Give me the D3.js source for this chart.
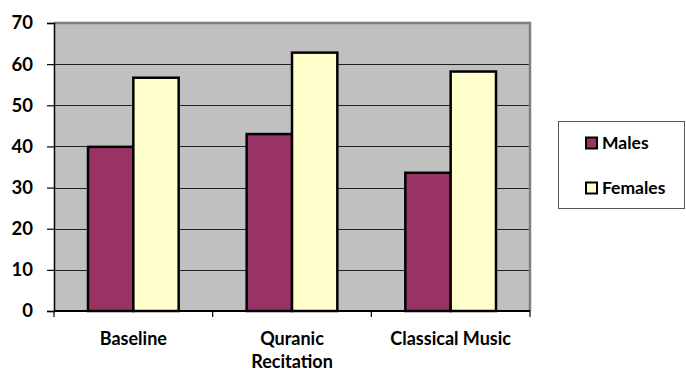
<!DOCTYPE html>
<html>
<head>
<meta charset="utf-8">
<script src="https://cdn.jsdelivr.net/npm/d3@7/dist/d3.min.js"></script>
<style>
  html, body { margin: 0; padding: 0; background: #fff; }
  svg { display: block; font-family: Lato, "Open Sans", sans-serif; font-weight: bold; }
</style>
</head>
<body>
<svg id="chart" width="686" height="371"></svg>
<script>
// Chart data
const categories = ["Baseline", "Quranic Recitation", "Classical Music"];
const categoryLines = [["Baseline"], ["Quranic", "Recitation"], ["Classical Music"]];
const seriesNames = ["Males", "Females"];
const males = [39.9, 43.0, 33.6];
const females = [56.7, 62.8, 58.2];
const yTicks = [0, 10, 20, 30, 40, 50, 60, 70];
const seriesColors = ["#993366", "#FFFFCC"];

const svg = d3.select("#chart");
const plot = { left: 54, right: 530, top: 23, bottom: 311 };

const x = d3.scaleBand().domain(categories).range([plot.left, plot.right]);
const xInner = d3.scaleBand().domain(seriesNames).range([0, x.bandwidth()])
  .paddingInner(0).paddingOuter(0.75);
const y = d3.scaleLinear().domain([0, 70]).range([plot.bottom, plot.top]);

// Plot background
svg.append("rect")
  .attr("x", plot.left).attr("y", plot.top)
  .attr("width", plot.right - plot.left).attr("height", plot.bottom - plot.top)
  .attr("fill", "#C0C0C0");

// Horizontal gridlines
svg.append("g").selectAll("line").data(yTicks.filter(d => d > 0 && d < 70)).join("line")
  .attr("x1", plot.left).attr("x2", plot.right)
  .attr("y1", d => Math.round(y(d)) + 0.5).attr("y2", d => Math.round(y(d)) + 0.5)
  .attr("stroke", "#222").attr("stroke-width", 1);

// Plot border (top and right)
svg.append("path")
  .attr("d", `M${plot.left},${plot.top} H${plot.right} V${plot.bottom}`)
  .attr("fill", "none").attr("stroke", "#808080").attr("stroke-width", 2.5);

// Bars
const rows = categories.map((c, i) => ({ cat: c, values: [males[i], females[i]] }));
const groups = svg.append("g").selectAll("g").data(rows).join("g")
  .attr("transform", d => `translate(${x(d.cat)},0)`);
groups.selectAll("rect").data(d => d.values.map((v, j) => ({ s: seriesNames[j], v, j }))).join("rect")
  .attr("x", d => xInner(d.s))
  .attr("y", d => y(d.v))
  .attr("width", xInner.bandwidth())
  .attr("height", d => y(0) - y(d.v))
  .attr("fill", d => seriesColors[d.j])
  .attr("stroke", "#000").attr("stroke-width", 2.5);

// Y axis
const yAxis = svg.append("g")
  .attr("transform", `translate(${plot.left},0)`)
  .call(d3.axisLeft(y).tickValues(yTicks).tickSize(7).tickPadding(14));
yAxis.select(".domain").attr("stroke", "#000").attr("stroke-width", 1.5);
yAxis.selectAll(".tick line").attr("stroke", "#000").attr("stroke-width", 1.2);
yAxis.selectAll(".tick text").attr("font-size", 18.5).attr("font-family", "Lato")
  .attr("font-weight", "bold").attr("fill", "#000");

// X axis (tick marks at category boundaries)
const xAxis = svg.append("g").attr("transform", `translate(0,${plot.bottom})`);
xAxis.append("line").attr("x1", plot.left).attr("x2", plot.right)
  .attr("stroke", "#000").attr("stroke-width", 2);
const bounds = categories.map(c => x(c)).concat([plot.right]);
xAxis.selectAll("line.tk").data(bounds).join("line").attr("class", "tk")
  .attr("x1", d => d).attr("x2", d => d).attr("y1", 0).attr("y2", 6)
  .attr("stroke", "#000").attr("stroke-width", 1.2);
const labels = xAxis.selectAll("text").data(categories).join("text")
  .attr("x", d => x(d) + x.bandwidth() / 2)
  .attr("y", 34)
  .attr("text-anchor", "middle")
  .attr("font-size", 18).attr("fill", "#000");
labels.selectAll("tspan").data((d, i) => categoryLines[i]).join("tspan")
  .attr("x", function () { return d3.select(this.parentNode).attr("x"); })
  .attr("dy", (d, i) => i === 0 ? 0 : 23)
  .text(d => d);

// Legend
const legend = svg.append("g");
legend.append("rect")
  .attr("x", 558.5).attr("y", 121.5).attr("width", 126).attr("height", 87)
  .attr("fill", "#fff").attr("stroke", "#555").attr("stroke-width", 1);
const items = legend.selectAll("g.item").data(seriesNames).join("g").attr("class", "item")
  .attr("transform", (d, i) => `translate(586,${137.5 + i * 45})`);
items.append("rect").attr("width", 11).attr("height", 11)
  .attr("fill", (d, i) => seriesColors[i]).attr("stroke", "#000").attr("stroke-width", 2);
items.append("text").attr("x", 16).attr("y", 11)
  .attr("font-size", 17.5).attr("fill", "#000").text(d => d);
</script>
</body>
</html>
